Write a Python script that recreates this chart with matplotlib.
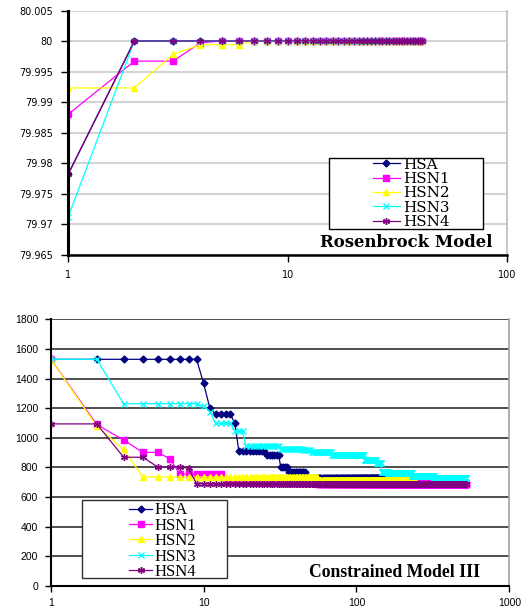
import numpy as np
import matplotlib
matplotlib.use('Agg')
import matplotlib.pyplot as plt
from matplotlib.patches import Rectangle
from matplotlib.ticker import FuncFormatter, FixedLocator, NullLocator

labels = ['HSA', 'HSN1', 'HSN2', 'HSN3', 'HSN4']

# ---- Rosenbrock model (top) : run-length data, (first iteration of each run, value)
ros_len = 41
ros_hsa_start = [1, 2]
ros_hsa_val = [79.9782, 80.0]
ros_hsn1_start = [1, 2, 4, 5]
ros_hsn1_val = [79.988, 79.9967, 79.9997, 80.0]
ros_hsn2_start = [1, 3, 4, 7]
ros_hsn2_val = [79.9923, 79.9978, 79.9994, 80.0]
ros_hsn3_start = [1, 2]
ros_hsn3_val = [79.9712, 80.0]
ros_hsn4_start = [1, 2]
ros_hsn4_val = [79.9782, 80.0]

# ---- Constrained model III (bottom)
con_hsa_len = 230
con_hsa_start = [1, 10, 11, 12, 16, 17, 26, 32, 36, 47]
con_hsa_val = [1530, 1368, 1200, 1160, 1098, 914, 884, 800, 767, 730]
con_hsn1_len = 520
con_hsn1_start = [1, 2, 3, 4, 6, 7, 14, 56]
con_hsn1_val = [1532, 1090, 985, 902, 860, 755, 705, 690]
con_hsn2_len = 240
con_hsn2_start = [1, 2, 3, 4, 56]
con_hsn2_val = [1530, 1080, 922, 736, 716]
con_hsn3_len = 520
con_hsn3_start = [1, 3, 10, 11, 12, 16, 19, 32, 45, 51, 69, 113, 136, 146, 161, 231, 321]
con_hsn3_val = [1530, 1230, 1212, 1177, 1097, 1043, 942, 928, 918, 905, 885, 850, 828, 772, 760, 745, 726]
con_hsn4_len = 520
con_hsn4_start = [1, 3, 5, 8, 9]
con_hsn4_val = [1094, 869, 804, 794, 689]

ros_yticks = [79.965, 79.97, 79.975, 79.98, 79.985, 79.99, 79.995, 80.0, 80.005]
con_yticks = [0, 200, 400, 600, 800, 1000, 1200, 1400, 1600, 1800]


def runs(start, val, n):
    # expand (start, value) runs into one value per iteration
    counts = np.diff(list(start) + [n + 1])
    return np.arange(1, n + 1), np.repeat(val, counts)


colors = ['#000080', '#ff00ff', '#ffff00', '#00ffff', '#800080']
markers = ['D', 's', '^', 'x', (6, 2, 0)]
msizes = [3.5, 4.5, 4.5, 4.5, 5]

W, H = 529, 608
fig = plt.figure(figsize=(W / 100, H / 100), dpi=100)


def fx(px):
    return px / W


def fy(py):
    return 1 - py / H


# ================= top chart =================
ax1 = fig.add_axes([fx(68.3), fy(254.5), fx(507.3 - 68.3), (254.5 - 10.5) / H])
ros = [(ros_hsa_start, ros_hsa_val), (ros_hsn1_start, ros_hsn1_val), (ros_hsn2_start, ros_hsn2_val),
       (ros_hsn3_start, ros_hsn3_val), (ros_hsn4_start, ros_hsn4_val)]
for (s, v), c, m, ms, lab in zip(ros, colors, markers, msizes, labels):
    x, y = runs(s, v, ros_len)
    ax1.plot(x, y, color=c, marker=m, markersize=ms, markeredgecolor=c, markeredgewidth=1,
             linewidth=0.9, label=lab)
ax1.set_xscale('log')
ax1.set_xlim(1, 100)
ax1.set_ylim(79.965, 80.005)
ax1.yaxis.set_major_locator(FixedLocator(ros_yticks))
ax1.yaxis.set_major_formatter(FuncFormatter(lambda v, p: '%g' % round(v, 3)))
ax1.xaxis.set_major_locator(FixedLocator([1, 10, 100]))
ax1.xaxis.set_minor_locator(NullLocator())
ax1.xaxis.set_major_formatter(FuncFormatter(lambda v, p: '%g' % v))
ax1.yaxis.grid(True, color='#d4d4d4', linewidth=1.5)
ax1.set_axisbelow(True)
ax1.spines['top'].set_visible(False)
ax1.spines['right'].set_color('#c8c8c8')
ax1.spines['right'].set_linewidth(1.5)
ax1.spines['left'].set_linewidth(2.2)
ax1.spines['bottom'].set_linewidth(1.8)
ax1.tick_params(axis='both', direction='out', length=5, width=1, labelsize=7, pad=6)
for t in ax1.get_xticklabels() + ax1.get_yticklabels():
    t.set_family('DejaVu Sans')

ax1.add_patch(Rectangle((fx(329), fy(229)), (483 - 329) / W, (229 - 158) / H, transform=fig.transFigure,
                        facecolor='white', edgecolor='black', linewidth=1, zorder=4, clip_on=False))
ax1.legend(loc='upper left', bbox_to_anchor=(fx(365), fy(150)), bbox_transform=fig.transFigure,
           frameon=False, borderpad=0, handlelength=1.77, handletextpad=0.2, labelspacing=0.02,
           prop={'family': 'DejaVu Serif', 'size': 11})
ax1.text(fx(492), fy(247), 'Rosenbrock Model', transform=fig.transFigure, ha='right', va='baseline',
         family='DejaVu Serif', fontweight='bold', fontsize=11.9)

# ================= bottom chart =================
ax2 = fig.add_axes([fx(50.7), fy(586), fx(509.3 - 50.7), (586 - 319.3) / H])
con = [(con_hsa_start, con_hsa_val, con_hsa_len), (con_hsn1_start, con_hsn1_val, con_hsn1_len),
       (con_hsn2_start, con_hsn2_val, con_hsn2_len), (con_hsn3_start, con_hsn3_val, con_hsn3_len),
       (con_hsn4_start, con_hsn4_val, con_hsn4_len)]
for (s, v, n), c, m, ms, lab in zip(con, colors, markers, msizes, labels):
    x, y = runs(s, v, n)
    ax2.plot(x, y, color=c, marker=m, markersize=ms, markeredgecolor=c, markeredgewidth=1,
             linewidth=0.9, label=lab)
ax2.set_xscale('log')
ax2.set_xlim(1, 1000)
ax2.set_ylim(0, 1800)
ax2.yaxis.set_major_locator(FixedLocator(con_yticks))
ax2.xaxis.set_major_locator(FixedLocator([1, 10, 100, 1000]))
ax2.xaxis.set_minor_locator(NullLocator())
ax2.xaxis.set_major_formatter(FuncFormatter(lambda v, p: '%g' % v))
ax2.yaxis.grid(True, color='#404040', linewidth=1.3)
ax2.set_axisbelow(True)
ax2.spines['top'].set_visible(False)
ax2.spines['right'].set_color('#a0a0a0')
ax2.spines['right'].set_linewidth(1.2)
ax2.spines['left'].set_linewidth(1.5)
ax2.spines['bottom'].set_linewidth(1.5)
ax2.tick_params(axis='both', direction='out', length=4, width=1, labelsize=7.5, pad=5)
for t in ax2.get_xticklabels() + ax2.get_yticklabels():
    t.set_family('Liberation Sans')

ax2.add_patch(Rectangle((fx(82), fy(578)), (227 - 82) / W, (578 - 500) / H, transform=fig.transFigure,
                        facecolor='white', edgecolor='#303030', linewidth=1, zorder=4, clip_on=False))
ax2.legend(loc='upper left', bbox_to_anchor=(fx(121), fy(494)), bbox_transform=fig.transFigure,
           frameon=False, borderpad=0, handlelength=1.38, handletextpad=0.12, labelspacing=-0.035,
           prop={'family': 'Liberation Serif', 'size': 12})
ax2.text(fx(480), fy(577), 'Constrained Model III', transform=fig.transFigure, ha='right', va='baseline',
         family='Liberation Serif', fontweight='bold', fontsize=12.7)

fig.savefig('out.png', dpi=100)
